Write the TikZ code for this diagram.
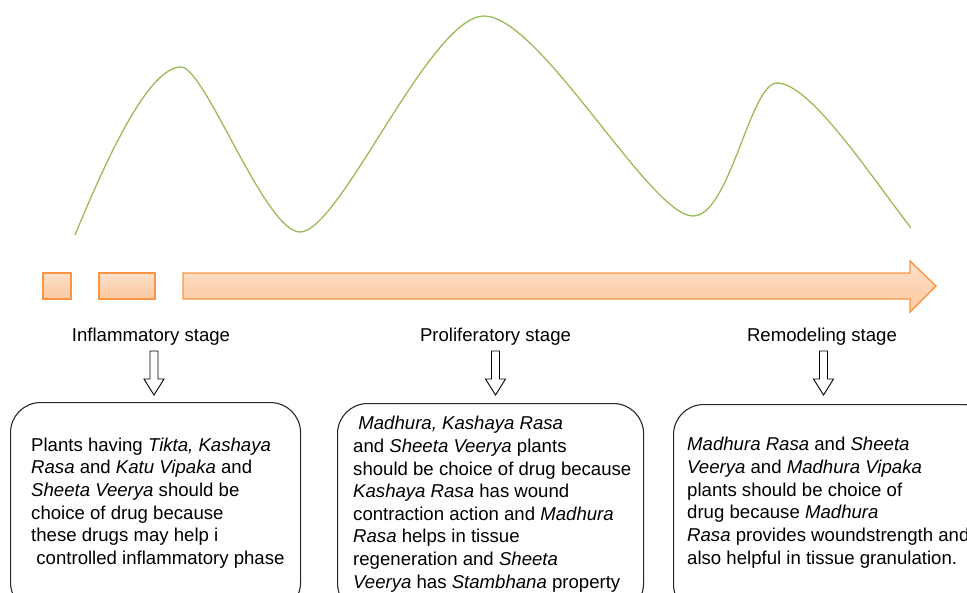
\documentclass[tikz,border=0pt]{standalone}
\usepackage{fontspec}
\setmainfont{Liberation Sans}
\definecolor{curvegreen}{RGB}{155,187,89}
\definecolor{orangeline}{RGB}{247,150,70}
\definecolor{peachtop}{RGB}{253,224,201}
\definecolor{peachbot}{RGB}{251,200,158}
\definecolor{boxline}{RGB}{40,40,40}
\tikzset{
  orangeshape/.style={draw=orangeline, line width=1.4pt, top color=peachtop, bottom color=peachbot},
  wave/.style={draw=curvegreen, line width=1.3pt},
  downarrow/.style={draw=black, line width=0.9pt, fill=white, line join=miter},
  stagelabel/.style={font=\fontsize{18.6}{23.1}\selectfont, inner sep=0pt, anchor=base},
  roundbox/.style={draw=boxline, line width=1.1pt, rounded corners=30pt, anchor=north west, inner sep=0pt},
  boxtext/.style={align=left, anchor=north west, inner sep=0pt},
}
\newcommand{\downblock}[1]{%
  \draw[downarrow] (#1-4,351) -- (#1+4,351) -- (#1+4,379) -- (#1+10,379) -- (#1,395) -- (#1-10,379) -- (#1-4,379) -- cycle;}
\begin{document}
\begin{tikzpicture}[x=1pt,y=-1pt]
\useasboundingbox (0,0) rectangle (967,592);
\clip (0,0) rectangle (967,592);
% wave
\coordinate (w0) at (75,235);
\coordinate (w1) at (181,67);
\coordinate (w2) at (300,232);
\coordinate (w3) at (484,16);
\coordinate (w4) at (693,216);
\coordinate (w5) at (777,83);
\coordinate (w6) at (911,228);
\draw[wave] (w0) .. controls (110,150) and (150,67) .. (w1)
  .. controls (205,67) and (265,232) .. (w2)
  .. controls (340,232) and (430,16) .. (w3)
  .. controls (540,16) and (650,216) .. (w4)
  .. controls (730,216) and (750,83) .. (w5)
  .. controls (810,83) and (870,175) .. (w6);
% timeline
\draw[orangeshape] (43,273) rectangle (71,299);
\draw[orangeshape] (99,273) rectangle (155,299);
\draw[orangeshape] (183,273) -- (910,273) -- (910,261) -- (936,286) -- (910,312) -- (910,299) -- (183,299) -- cycle;
% stage labels
\node[stagelabel] (l1) at (151,341) {Inflammatory stage};
\node[stagelabel] (l2) at (495.5,341) {Proliferatory stage};
\node[stagelabel] (l3) at (822,341) {Remodeling stage};
% down arrows
\downblock{154}
\downblock{495.5}
\downblock{823.5}
% boxes
\node[roundbox, minimum width=290pt, minimum height=210pt] (b1) at (10,402) {};
\node[roundbox, minimum width=306pt, minimum height=210pt] (b2) at (337,403) {};
\node[roundbox, minimum width=320pt, minimum height=210pt] (b3) at (673,404) {};
% box texts
\node[boxtext, font=\fontsize{18.6}{22.65}\selectfont] (t1) at (31,435.1) {\strut Plants having \textit{Tikta, Kashaya}\\
\textit{Rasa} and \textit{Katu Vipaka} and\\
\textit{Sheeta Veerya} should be\\
choice of drug because\\
these drugs may help i\\
\hspace*{0.28em}controlled inflammatory phase};
\node[boxtext, font=\fontsize{18.6}{22.6}\selectfont] (t2) at (353,413.9) {\strut\hspace*{0.28em}\textit{Madhura, Kashaya Rasa}\\
and \textit{Sheeta Veerya} plants\\
should be choice of drug because\\
\textit{Kashaya Rasa} has wound\\
contraction action and \textit{Madhura}\\
\textit{Rasa} helps in tissue\\
regeneration and \textit{Sheeta}\\
\textit{Veerya} has \textit{Stambhana} property};
\node[boxtext, font=\fontsize{18.6}{22.75}\selectfont] (t3) at (687,434.6) {\strut\textit{Madhura Rasa} and \textit{Sheeta}\\
\textit{Veerya} and \textit{Madhura Vipaka}\\
plants should be choice of\\
drug because \textit{Madhura}\\
\textit{Rasa} provides woundstrength and\\
also helpful in tissue granulation.};
\end{tikzpicture}
\end{document}
